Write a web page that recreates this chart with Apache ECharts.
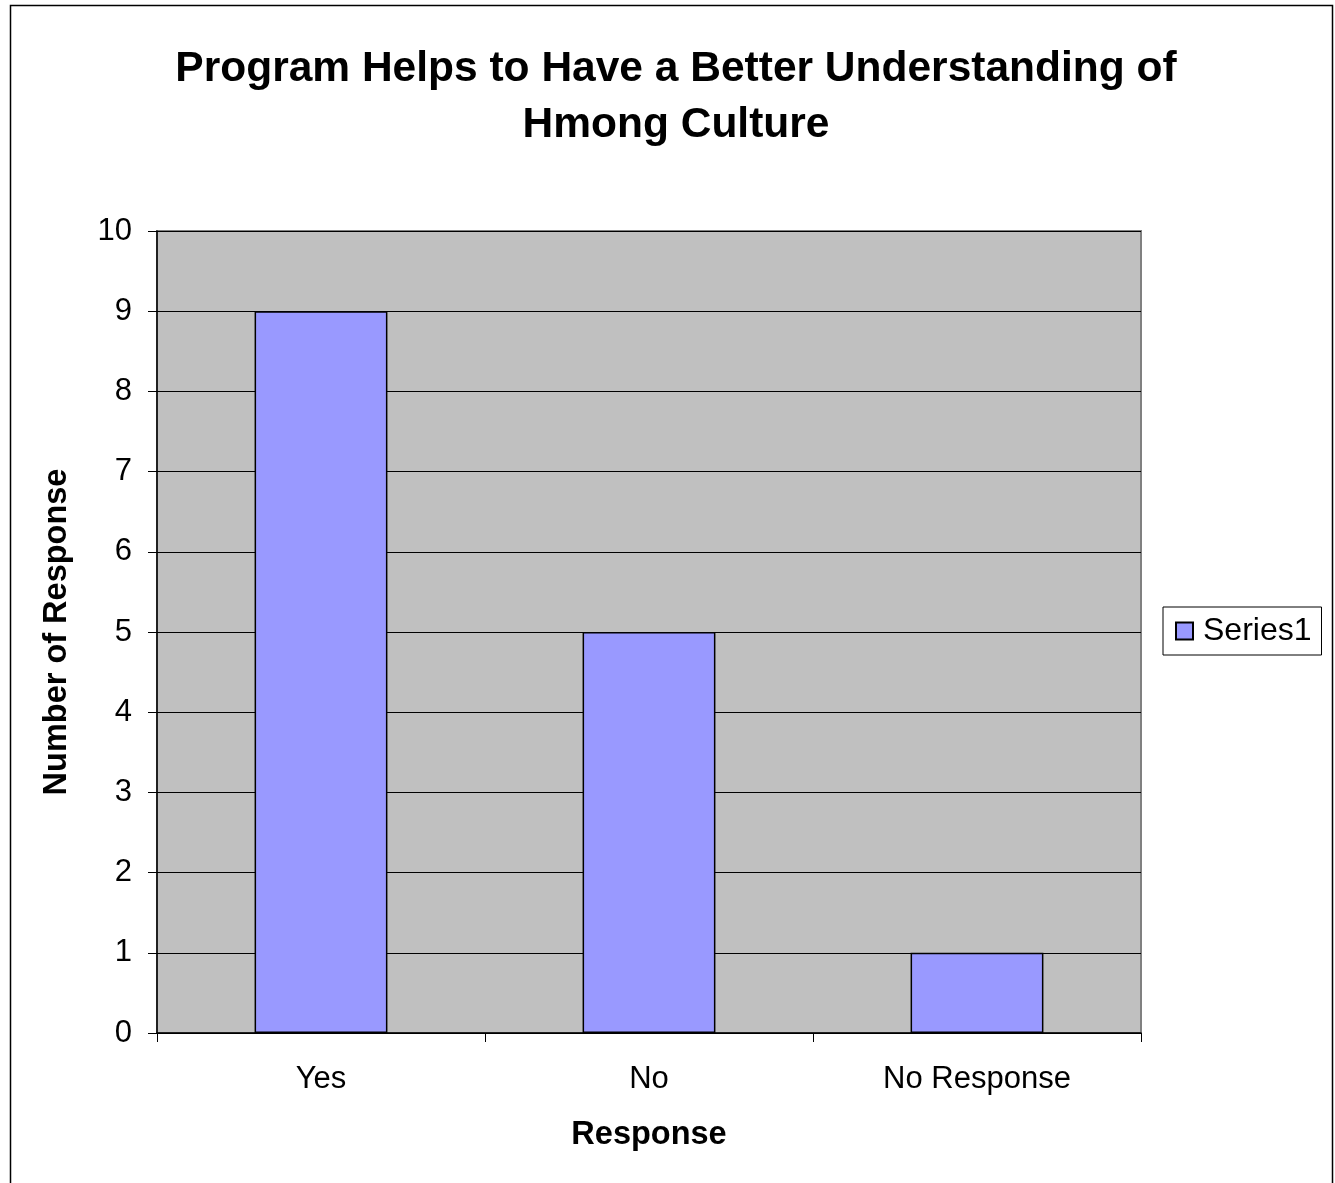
<!DOCTYPE html>
<html>
<head>
<meta charset="utf-8">
<script src="https://cdn.jsdelivr.net/npm/echarts@6/dist/echarts.min.js"></script>
<style>
  html, body { margin: 0; padding: 0; background: #ffffff; }
  #chart { width: 1335px; height: 1183px; }
</style>
</head>
<body>
<div id="chart"></div>
<script>
// Survey responses
const categories = ['Yes', 'No', 'No Response'];
const series1 = [9, 5, 1];
const yTicks = { min: 0, max: 10, interval: 1 };

const FONT = '"Liberation Sans", Arial, sans-serif';

const chart = echarts.init(document.getElementById('chart'), null, { renderer: 'canvas' });

chart.setOption({
  backgroundColor: '#ffffff',
  animation: false,
  title: {
    text: 'Program Helps to Have a Better Understanding of\nHmong Culture',
    left: 671,
    top: 36,
    textAlign: 'center',
    textStyle: {
      fontFamily: FONT,
      fontSize: 42.5,
      fontWeight: 'bold',
      color: '#000000',
      lineHeight: 56
    }
  },
  legend: {
    data: ['Series1'],
    orient: 'vertical',
    left: 1163,
    top: 607,
    padding: [8, 10, 8, 12],
    itemWidth: 17,
    itemHeight: 17,
    itemGap: 0,
    borderColor: '#000000',
    borderWidth: 1,
    backgroundColor: '#ffffff',
    icon: 'rect',
    textStyle: { fontFamily: FONT, fontSize: 32, color: '#000000', padding: [0, 0, 0, 5] }
  },
  grid: {
    left: 157,
    right: 194,
    top: 231,
    bottom: 150,
    show: true,
    backgroundColor: '#c0c0c0',
    borderColor: '#808080',
    borderWidth: 2
  },
  xAxis: {
    type: 'category',
    data: categories,
    name: 'Response',
    nameLocation: 'middle',
    nameGap: 86,
    nameTextStyle: { fontFamily: FONT, fontSize: 32.5, fontWeight: 'bold', color: '#000000' },
    axisLine: { show: true, lineStyle: { color: '#000000', width: 1.5 } },
    axisTick: { show: true, alignWithLabel: false, length: 9, lineStyle: { color: '#000000' } },
    axisLabel: { fontFamily: FONT, fontSize: 31, color: '#000000', margin: 31 },
    splitLine: { show: false }
  },
  yAxis: {
    type: 'value',
    min: yTicks.min,
    max: yTicks.max,
    interval: yTicks.interval,
    name: 'Number of Response',
    nameLocation: 'middle',
    nameGap: 83,
    nameRotate: 90,
    nameTextStyle: { fontFamily: FONT, fontSize: 32.5, fontWeight: 'bold', color: '#000000' },
    axisLine: { show: true, lineStyle: { color: '#000000', width: 1.5 } },
    axisTick: { show: true, length: 9, lineStyle: { color: '#000000' } },
    axisLabel: { fontFamily: FONT, fontSize: 31, color: '#000000', margin: 25 },
    splitLine: { show: true, lineStyle: { color: '#000000', width: 1 } }
  },
  series: [{
    name: 'Series1',
    type: 'bar',
    data: series1,
    barWidth: '40.5%',
    itemStyle: { color: '#9999ff', borderColor: '#000000', borderWidth: 1.5 }
  }],
  graphic: [{
    type: 'rect',
    silent: true,
    z: -1,
    shape: { x: 10.5, y: 5.5, width: 1322, height: 1200 },
    style: { fill: 'none', stroke: '#000000', lineWidth: 1.5 }
  }]
});
</script>
</body>
</html>
